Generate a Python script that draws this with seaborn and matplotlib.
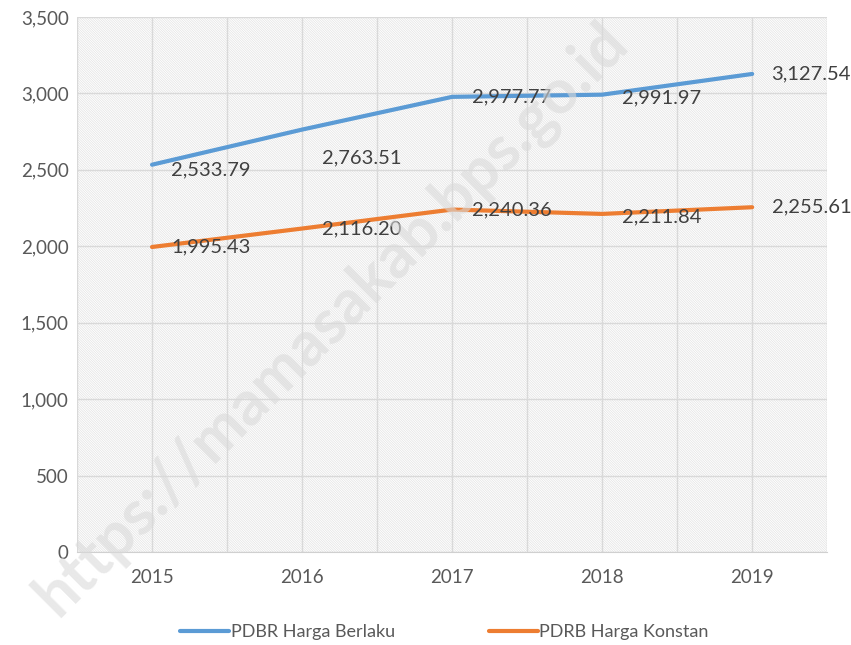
import seaborn as sns
from matplotlib import pyplot as plt
from matplotlib.patches import Rectangle
import pandas as pd

# data
years = ['2015', '2016', '2017', '2018', '2019']
berlaku = [2533.79, 2763.51, 2977.77, 2991.97, 3127.54]
konstan = [1995.43, 2116.20, 2240.36, 2211.84, 2255.61]
series_names = ['PDBR Harga Berlaku', 'PDRB Harga Konstan']

df = pd.DataFrame({
    'tahun': years * 2,
    'nilai': berlaku + konstan,
    'seri': [series_names[0]] * 5 + [series_names[1]] * 5,
})

sns.set_style('white')
plt.rcParams['font.family'] = ['Lato', 'DejaVu Sans']
plt.rcParams['hatch.linewidth'] = 0.5

fig = plt.figure(figsize=(8.51, 6.45), dpi=100)
ax = fig.add_axes([0.0905, 0.1442, 0.8815, 0.8294])

# hatched background
ax.add_patch(Rectangle((0, 0), 1, 1, transform=ax.transAxes, facecolor='white',
                       edgecolor='#e2e2e2', hatch='\\' * 14, linewidth=0, zorder=0))

sns.lineplot(data=df, x='tahun', y='nilai', hue='seri', ax=ax,
             palette=['#5B9BD5', '#ED7D31'], linewidth=3.0, sort=False, zorder=3)

ax.set_xlim(-0.5, 4.5)
ax.set_ylim(0, 3500)
ax.set_yticks(range(0, 3501, 500))
ax.set_yticklabels([f'{v:,}' for v in range(0, 3501, 500)])
ax.set_xticks(range(5))
ax.set_xticklabels(years)
ax.set_xticks([i + 0.5 for i in range(-1, 5)], minor=True)
ax.grid(True, which='major', axis='both', color='#d9d9d9', linewidth=1, zorder=1)
ax.grid(True, which='minor', axis='x', color='#d9d9d9', linewidth=1, zorder=1)
ax.set_axisbelow(True)
for s in ['left', 'right', 'top']:
    ax.spines[s].set_visible(False)
ax.spines['bottom'].set_color('#d0d0d0')
ax.tick_params(axis='both', which='both', length=0, colors='#595959', labelsize=13.5)
ax.tick_params(axis='x', pad=12)
ax.tick_params(axis='y', pad=6)
ax.set_xlabel('')
ax.set_ylabel('')

# data labels
off_b = [-4, -20, 0, -2, 0]
off_k = [0, 0, 0, -2, 0]
for i in range(5):
    ax.annotate(f'{berlaku[i]:,.2f}', (i, berlaku[i]), xytext=(14, off_b[i]),
                textcoords='offset points', va='center', ha='left',
                fontsize=14.5, color='#404040', zorder=4)
    ax.annotate(f'{konstan[i]:,.2f}', (i, konstan[i]), xytext=(14, off_k[i]),
                textcoords='offset points', va='center', ha='left',
                fontsize=14.5, color='#404040', zorder=4)

ax.legend(loc='upper center', bbox_to_anchor=(0.49, -0.105), ncol=2, frameon=False,
          fontsize=13, handlelength=2.7, handletextpad=0.1, columnspacing=5.2,
          labelcolor='#595959')

# watermark
fig.text(0.39, 0.505, 'https://mamasakab.bps.go.id', rotation=45, fontsize=45,
         fontweight='bold', color='#dadada', alpha=0.6, ha='center', va='center',
         zorder=2)

fig.savefig('out.png', dpi=100)
